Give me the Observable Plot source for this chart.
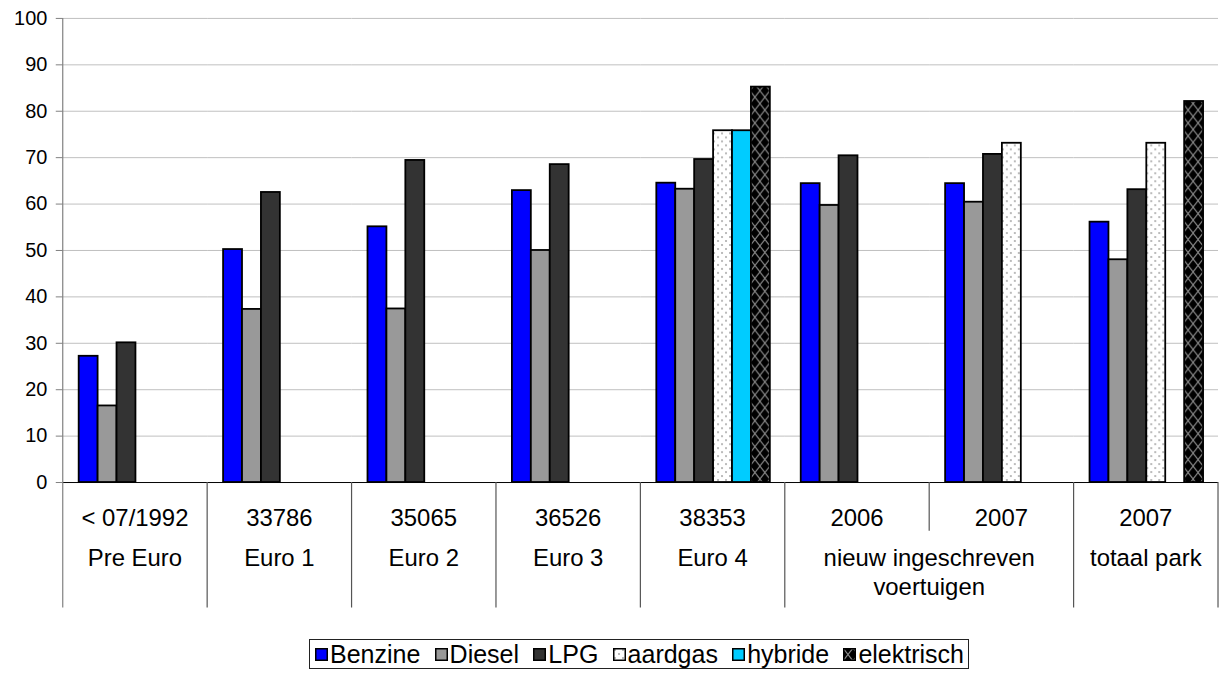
<!DOCTYPE html>
<html>
<head>
<meta charset="utf-8">
<script src="https://cdn.jsdelivr.net/npm/d3@7"></script>
<script src="https://cdn.jsdelivr.net/npm/@observablehq/plot@0.6"></script>
<style>
  html, body { margin: 0; padding: 0; background: #fff; overflow: hidden; width: 1221px; height: 673px; }
  #chart { position: absolute; left: 0; top: 0; }
  #legend {
    position: absolute; left: 309px; top: 639px; height: 30px; width: 660px;
    border: 1px solid #222; box-sizing: border-box;
    display: flex; align-items: center; justify-content: space-between; padding: 0 4px 0 5px;
    font-family: "Liberation Sans", Arial, sans-serif; font-size: 25px; color: #000;
    white-space: nowrap;
  }
  #legend .item { display: flex; align-items: center; }
  #legend svg { margin-right: 2px; display: block; }
</style>
</head>
<body>
<div id="chart"></div>
<div id="legend"></div>
<script>
// ---- data ----
const groupKeys = ["g1", "g2", "g3", "g4", "g5", "g6", "g7", "g8"];
const row1Labels = ["< 07/1992", "33786", "35065", "36526", "38353", "2006", "2007", "2007"];
const row2Labels = ["Pre Euro", "Euro 1", "Euro 2", "Euro 3", "Euro 4", "nieuw ingeschreven|voertuigen", "totaal park"];
const row2Spans = [[0, 0], [1, 1], [2, 2], [3, 3], [4, 4], [5, 6], [7, 7]];
const series = ["Benzine", "Diesel", "LPG", "aardgas", "hybride", "elektrisch"];
const benzine    = [27.2, 50.2, 55.1, 62.9, 64.5, 64.4, 64.4, 56.1];
const diesel     = [16.5, 37.3, 37.4, 50.0, 63.2, 59.7, 60.4, 48.0];
const lpg        = [30.1, 62.5, 69.4, 68.5, 69.6, 70.4, 70.7, 63.1];
const aardgas    = [null, null, null, null, 75.8, null, 73.1, 73.1];
const hybride    = [null, null, null, null, 75.8, null, null, null];
const elektrisch = [null, null, null, null, 85.2, null, null, 82.1];
const yTicks = [0, 10, 20, 30, 40, 50, 60, 70, 80, 90, 100];
const seriesColors = ["#0000ff", "#999999", "#333333", "url(#pat-dots)", "#00ccff", "url(#pat-cross)"];

const allValues = [benzine, diesel, lpg, aardgas, hybride, elektrisch];
const data = [];
groupKeys.forEach((g, i) => {
  allValues.forEach((vals, j) => {
    if (vals[i] != null) data.push({group: g, series: series[j], value: vals[i]});
  });
});

const FONT = '"Liberation Sans", Arial, sans-serif';

const plot = Plot.plot({
  width: 1226,
  height: 628,
  marginTop: 18,
  marginBottom: 144,
  marginLeft: 60,
  marginRight: 0,
  style: {fontFamily: FONT, fontSize: "20px", background: "#fff", color: "#000", overflow: "visible"},
  fx: {domain: groupKeys, paddingInner: 0, paddingOuter: 0, axis: null, label: null},
  x: {domain: series, paddingInner: 0, paddingOuter: 0.64, axis: null, label: null},
  y: {domain: [0, 100], label: null},
  color: {type: "ordinal", domain: series, range: seriesColors},
  marks: [
    Plot.gridY(yTicks.filter(d => d > 0), {stroke: "#c0c0c0", strokeOpacity: 1}),
    Plot.barY(data, {fx: "group", x: "series", y: "value", fill: "series", stroke: "#000", strokeWidth: 1.8}),
    Plot.ruleY([0], {stroke: "#000", strokeWidth: 1}),
    Plot.axisY(yTicks, {tickSize: 7, tickPadding: 9, fontSize: 20, stroke: "#808080", label: null})
  ]
});

const svg = d3.select(plot);
// patterns
const defs = svg.insert("defs", ":first-child");
const pd = defs.append("pattern").attr("id", "pat-dots").attr("patternUnits", "userSpaceOnUse")
  .attr("width", 8).attr("height", 8);
pd.append("rect").attr("width", 8).attr("height", 8).attr("fill", "#fff");
pd.append("circle").attr("cx", 2).attr("cy", 2).attr("r", 0.9).attr("fill", "#9a9a9a");
pd.append("circle").attr("cx", 6).attr("cy", 6).attr("r", 0.9).attr("fill", "#9a9a9a");
const pc = defs.append("pattern").attr("id", "pat-cross").attr("patternUnits", "userSpaceOnUse")
  .attr("width", 10).attr("height", 13);
pc.append("rect").attr("width", 10).attr("height", 13).attr("fill", "#000");
pc.append("path").attr("d", "M0,0L10,13M10,0L0,13").attr("stroke", "#8a8a8a").attr("stroke-width", 1.1).attr("fill", "none");

// axis frame pieces and category labels drawn from the library's scales
const fx = plot.scale("fx");
const y = plot.scale("y");
const bw = fx.bandwidth;
const y0 = y.apply(0);
const y100 = y.apply(100);
const g = svg.append("g").attr("font-family", FONT).attr("fill", "#000");

// y axis line
g.append("line").attr("x1", fx.apply(groupKeys[0])).attr("x2", fx.apply(groupKeys[0]))
  .attr("y1", y100).attr("y2", y0 + 126).attr("stroke", "#808080").attr("stroke-width", 1.2);

// separators
for (let i = 1; i <= groupKeys.length; i++) {
  const xx = i < groupKeys.length ? fx.apply(groupKeys[i]) : fx.apply(groupKeys[i - 1]) + bw;
  const short = i === 6;
  g.append("line").attr("x1", xx).attr("x2", xx).attr("y1", y0).attr("y2", y0 + (short ? 49 : 126))
    .attr("stroke", "#555").attr("stroke-width", 1.2);
}

// row 1 labels
row1Labels.forEach((lab, i) => {
  g.append("text").attr("x", fx.apply(groupKeys[i]) + bw / 2).attr("y", y0 + 44)
    .attr("text-anchor", "middle").attr("font-size", 24).text(lab);
});
// row 2 labels
row2Labels.forEach((lab, i) => {
  const [a, b] = row2Spans[i];
  const cx = (fx.apply(groupKeys[a]) + fx.apply(groupKeys[b]) + bw) / 2;
  const lines = lab.split("|");
  lines.forEach((ln, k) => {
    g.append("text").attr("x", cx).attr("y", y0 + 84 + k * 29)
      .attr("text-anchor", "middle").attr("font-size", 24).text(ln);
  });
});

document.getElementById("chart").appendChild(plot);

// legend
const legend = d3.select("#legend");
series.forEach((s, j) => {
  const it = legend.append("div").attr("class", "item");
  const sw = it.append("svg").attr("width", 13).attr("height", 13);
  sw.append("rect").attr("x", 0.75).attr("y", 0.75).attr("width", 11.5).attr("height", 11.5)
    .attr("fill", seriesColors[j]).attr("stroke", "#000").attr("stroke-width", 1.5);
  it.append("span").text(s);
});
</script>
</body>
</html>
